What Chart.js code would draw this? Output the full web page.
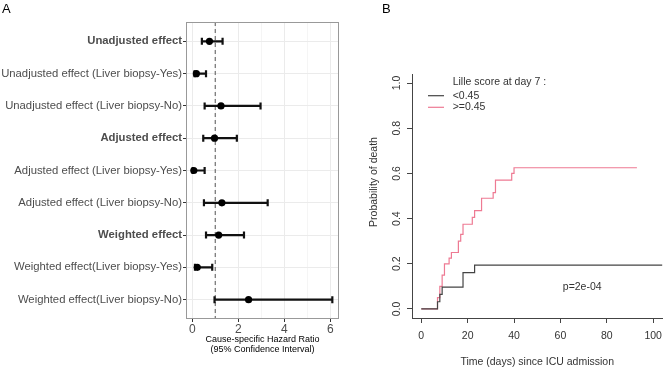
<!DOCTYPE html>
<html>
<head>
<meta charset="utf-8">
<script src="https://cdn.jsdelivr.net/npm/chart.js@4.4.1/dist/chart.umd.min.js"></script>
<style>
  html, body { margin: 0; padding: 0; background: #fff; }
  #wrap { position: relative; width: 669px; height: 368px; overflow: hidden; font-family: 'Liberation Sans', Arial, sans-serif; }
  canvas { position: absolute; top: 0; }
  #chartA { left: 0; }
  #chartB { left: 345px; }
  .tag { position: absolute; font-size: 13px; color: #000; line-height: 1; }
</style>
</head>
<body>
<div id="wrap">
  <canvas id="chartA" width="345" height="368"></canvas>
  <canvas id="chartB" width="324" height="368"></canvas>
  <div class="tag" style="left:2px;top:2px">A</div>
  <div class="tag" style="left:382px;top:2px">B</div>
</div>
<script>
// panel A - forest plot
const effectLabels = [
    'Unadjusted effect',
    'Unadjusted effect (Liver biopsy-Yes)',
    'Unadjusted effect (Liver biopsy-No)',
    'Adjusted effect',
    'Adjusted effect (Liver biopsy-Yes)',
    'Adjusted effect (Liver biopsy-No)',
    'Weighted effect',
    'Weighted effect(Liver biopsy-Yes)',
    'Weighted effect(Liver biopsy-No)'
];
const hrEstimate = [0.75, 0.18, 1.25, 0.97, 0.07, 1.29, 1.15, 0.22, 2.45];
const hrLower = [0.42, 0.10, 0.54, 0.48, 0.02, 0.51, 0.60, 0.12, 0.97];
const hrUpper = [1.32, 0.60, 2.97, 1.94, 0.54, 3.28, 2.25, 0.87, 6.09];
const boldRows = [0, 3, 6];
const hrTicks = [0, 1, 2, 3, 4, 5, 6];
const nullEffect = 1;
const hrTitle = ['Cause-specific Hazard Ratio', '(95% Confidence Interval)'];

// panel B - cumulative incidence
const lilleTitle = 'Lille score at day 7 :';
const lilleGroups = ['<0.45', '>=0.45'];
const lowTime = [0, 7, 8, 9, 18, 23, 104];
const lowDeath = [0, 0.032, 0.065, 0.097, 0.161, 0.194, 0.194];
const highTime = [0, 7, 8, 9, 10, 12, 13, 16, 17, 18, 22, 23, 26, 31, 32, 39, 40, 93];
const highDeath = [0, 0.05, 0.10, 0.15, 0.20, 0.225, 0.25, 0.30, 0.33, 0.375, 0.405, 0.435, 0.49, 0.515, 0.57, 0.60, 0.625, 0.625];
const timeTicks = [0, 20, 40, 60, 80, 100];
const probTicks = [0, 0.2, 0.4, 0.6, 0.8, 1.0];
const pValueText = 'p=2e-04';

const SANS = "'Liberation Sans', Arial, sans-serif";
const NARROW = "'Liberation Sans Narrow', 'Liberation Sans', Arial, sans-serif";

const forestExtras = {
    id: 'forestExtras',
    beforeDatasetsDraw(chart) {
        const ctx = chart.ctx;
        const x = chart.scales.x, y = chart.scales.y;
        const area = chart.chartArea;
        ctx.save();
        // reference line at HR = 1
        ctx.strokeStyle = '#555';
        ctx.lineWidth = 1;
        ctx.setLineDash([4, 3]);
        const xr = x.getPixelForValue(nullEffect);
        ctx.beginPath();
        ctx.moveTo(xr, area.top);
        ctx.lineTo(xr, area.bottom);
        ctx.stroke();
        ctx.setLineDash([]);
        // error bars
        ctx.strokeStyle = '#111';
        ctx.lineWidth = 2.2;
        hrEstimate.forEach((v, i) => {
            const yp = y.getPixelForValue(i + 1);
            const x0 = x.getPixelForValue(hrLower[i]);
            const x1 = x.getPixelForValue(hrUpper[i]);
            ctx.beginPath();
            ctx.moveTo(x0, yp);
            ctx.lineTo(x1, yp);
            ctx.moveTo(x0, yp - 3.5);
            ctx.lineTo(x0, yp + 3.5);
            ctx.moveTo(x1, yp - 3.5);
            ctx.lineTo(x1, yp + 3.5);
            ctx.stroke();
        });
        // panel border
        ctx.strokeStyle = '#999';
        ctx.lineWidth = 1;
        ctx.strokeRect(area.left + 0.5, area.top + 0.5, area.right - area.left - 1, area.bottom - area.top - 1);
        ctx.restore();
    }
};

new Chart(document.getElementById('chartA'), {
    type: 'scatter',
    data: {
        datasets: [{
            data: hrEstimate.map((v, i) => ({ x: v, y: i + 1 })),
            backgroundColor: '#000',
            borderColor: '#000',
            borderWidth: 0,
            pointRadius: 3.6
        }]
    },
    options: {
        responsive: false,
        animation: false,
        devicePixelRatio: 1,
        layout: { padding: { top: 22, right: 6, left: 0, bottom: 0 } },
        plugins: { legend: { display: false }, tooltip: { enabled: false } },
        scales: {
            x: {
                type: 'linear',
                min: -0.27,
                max: 6.38,
                afterBuildTicks: s => { s.ticks = hrTicks.map(v => ({ value: v })); },
                afterFit: s => { s.height = 49; },
                border: { display: false },
                grid: {
                    color: '#ebebeb',
                    lineWidth: c => (c.tick && c.tick.value % 2 === 0 ? 1 : 0.5),
                    tickColor: c => (c.tick && c.tick.value % 2 === 0 ? '#333' : 'rgba(0,0,0,0)'),
                    tickLength: 3
                },
                ticks: {
                    padding: 0,
                    color: '#4d4d4d',
                    font: { family: SANS, size: 12 },
                    callback: v => (v % 2 === 0 ? String(v) : '')
                },
                title: {
                    display: true,
                    text: hrTitle,
                    color: '#000',
                    font: { family: SANS, size: 9, lineHeight: 1.12 },
                    padding: { top: 0, bottom: 13 }
                }
            },
            y: {
                type: 'linear',
                reverse: true,
                min: 0.4,
                max: 9.6,
                afterBuildTicks: s => { s.ticks = effectLabels.map((l, i) => ({ value: i + 1 })); },
                afterFit: s => { s.width = 186; },
                border: { display: false },
                grid: { color: '#ebebeb', tickColor: '#333', tickLength: 3 },
                ticks: {
                    padding: 1,
                    color: '#4d4d4d',
                    font: c => ({ family: SANS, size: 11.3, weight: boldRows.includes(c.index) ? 'bold' : 'normal' }),
                    callback: v => effectLabels[v - 1]
                }
            }
        }
    },
    plugins: [forestExtras]
});

const incidenceExtras = {
    id: 'incidenceExtras',
    afterDraw(chart) {
        const ctx = chart.ctx;
        const x = chart.scales.x, y = chart.scales.y;
        ctx.save();
        ctx.fillStyle = '#333';
        ctx.font = '10.5px ' + NARROW;
        ctx.textAlign = 'center';
        ctx.textBaseline = 'middle';
        // rotated y tick labels
        probTicks.forEach(v => {
            ctx.save();
            ctx.translate(51.7, y.getPixelForValue(v));
            ctx.rotate(-Math.PI / 2);
            ctx.fillText(v.toFixed(1), 0, 0);
            ctx.restore();
        });
        // y title
        ctx.save();
        ctx.translate(29.3, 182);
        ctx.rotate(-Math.PI / 2);
        ctx.fillText('Probability of death', 0, 0);
        ctx.restore();
        // p-value
        ctx.fillText(pValueText, x.getPixelForValue(69.4), y.getPixelForValue(0.097));
        // legend
        ctx.textAlign = 'left';
        ctx.fillText(lilleTitle, 107.7, 82);
        const rows = [95.7, 107.3];
        chart.data.datasets.forEach((ds, i) => {
            ctx.strokeStyle = ds.borderColor;
            ctx.lineWidth = 1.2;
            ctx.beginPath();
            ctx.moveTo(83, rows[i]);
            ctx.lineTo(99, rows[i]);
            ctx.stroke();
            ctx.fillText(ds.label, 107.7, rows[i]);
        });
        ctx.restore();
    }
};

new Chart(document.getElementById('chartB'), {
    type: 'scatter',
    data: {
        datasets: [
            {
                label: lilleGroups[0],
                data: lowTime.map((t, i) => ({ x: t, y: lowDeath[i] })),
                borderColor: '#444',
                borderWidth: 1.2,
                showLine: true,
                stepped: true,
                pointRadius: 0
            },
            {
                label: lilleGroups[1],
                data: highTime.map((t, i) => ({ x: t, y: highDeath[i] })),
                borderColor: '#ee7a93',
                borderWidth: 1.2,
                showLine: true,
                stepped: true,
                pointRadius: 0
            }
        ]
    },
    options: {
        responsive: false,
        animation: false,
        devicePixelRatio: 1,
        layout: { padding: { top: 74, right: 2, left: 0, bottom: 0 } },
        plugins: { legend: { display: false }, tooltip: { enabled: false } },
        scales: {
            x: {
                type: 'linear',
                min: -4,
                max: 104,
                afterBuildTicks: s => { s.ticks = timeTicks.map(v => ({ value: v })); },
                afterFit: s => { s.height = 50; },
                border: { display: true, color: '#444', width: 1 },
                grid: { drawOnChartArea: false, tickColor: '#444', tickLength: 5 },
                ticks: { padding: 7, color: '#333', font: { family: NARROW, size: 10.5 } },
                title: {
                    display: true,
                    text: 'Time (days) since ICU admission',
                    color: '#333',
                    font: { family: NARROW, size: 10.5, lineHeight: 1.2 },
                    padding: { top: 0, bottom: 0 }
                }
            },
            y: {
                type: 'linear',
                min: -0.04,
                max: 1.04,
                afterBuildTicks: s => { s.ticks = probTicks.map(v => ({ value: v })); },
                afterFit: s => { s.width = 67; },
                border: { display: true, color: '#444', width: 1 },
                grid: { drawOnChartArea: false, tickColor: '#444', tickLength: 5 },
                ticks: { display: false }
            }
        }
    },
    plugins: [incidenceExtras]
});
</script>
</body>
</html>
